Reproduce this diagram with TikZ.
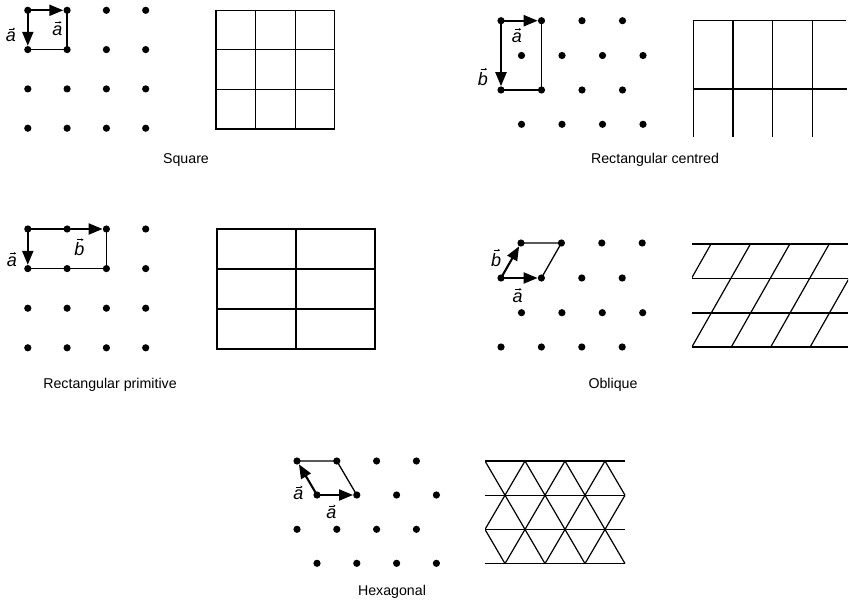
\documentclass[tikz,border=0pt]{standalone}
\usepackage{fontspec}
\setmainfont{Liberation Sans}
\usetikzlibrary{arrows.meta}
\newcommand\mkvec[3]{%
  \node[veclbl] (#1) at (#2) {\textit{#3}};
  \draw[vecmark] ([xshift=-2.2pt,yshift=3pt]#1.north) -- ([xshift=4pt,yshift=3pt]#1.north);}
\begin{document}
\begin{tikzpicture}[x=1pt,y=-1pt,
  dot/.style={circle,fill=black,inner sep=0pt,minimum size=7.2pt},
  vecarrow/.style={line width=2.1pt,-{Triangle[length=14pt,width=11pt]}},
  vecmark/.style={line width=0.6pt,-{Stealth[length=2.2pt,width=2.6pt]}},
  cellline/.style={line width=1.3pt},
  gridline/.style={line width=1.2pt},
  caption/.style={font=\fontsize{14.2}{16}\selectfont,inner sep=0pt,anchor=base},
  veclbl/.style={font=\fontsize{18}{20}\selectfont,inner sep=0pt}]
\useasboundingbox (0,0) rectangle (849,604);

% ---------------- Square ----------------
\foreach \i in {0,...,3} \foreach \j in {0,...,3}
  \node[dot] (sq-\i-\j) at ({27.8+39.3*\i},{10.3+39.3*\j}) {};
\draw[cellline] (sq-1-0.center) -- (sq-1-1.center) -- (sq-0-1.center);
\draw[vecarrow] (sq-0-0.center) -- (sq-1-0);
\draw[vecarrow] (sq-0-0.center) -- (sq-0-1);
\mkvec{sq-la}{11,37}{a}
\mkvec{sq-lb}{57.5,30.5}{a}
\draw[gridline] (216,10.3) rectangle (334.8,129.1);
\foreach \k in {1,2} {
  \draw[gridline] ({216+39.6*\k},10.3) -- ({216+39.6*\k},129.1);
  \draw[gridline] (216,{10.3+39.6*\k}) -- (334.8,{10.3+39.6*\k});
}
\node[caption] (cap-sq) at (186,164) {Square};

% ---------------- Rectangular centred ----------------
\foreach \i in {0,...,3} {
  \node[dot] (rc-\i-0) at ({501+40.5*\i},20.7) {};
  \node[dot] (rc-\i-1) at ({521.5+40.5*\i},55.5) {};
  \node[dot] (rc-\i-2) at ({501+40.5*\i},90) {};
  \node[dot] (rc-\i-3) at ({521.5+40.5*\i},124.3) {};
}
\draw[cellline] (rc-1-0.center) -- (rc-1-2.center) -- (rc-0-2.center);
\draw[vecarrow] (rc-0-0.center) -- (rc-1-0);
\draw[vecarrow] (rc-0-0.center) -- (rc-0-2);
\mkvec{rc-la}{517,37.5}{a}
\mkvec{rc-lb}{483,79}{b}
\draw[gridline] (693.3,137.3) -- (693.3,20.7) -- (846,20.7);
\foreach \k in {1,2,3}
  \draw[gridline] ({693.3+39.7*\k},20.7) -- ({693.3+39.7*\k},137.3);
\draw[gridline] (693.3,89) -- (846.5,89);
\node[caption] (cap-rc) at (655,164) {Rectangular centred};

% ---------------- Rectangular primitive ----------------
\foreach \i in {0,...,3} \foreach \j in {0,...,3}
  \node[dot] (rp-\i-\j) at ({27.8+39.3*\i},{229+39.6*\j}) {};
\draw[cellline] (rp-2-0.center) -- (rp-2-1.center) -- (rp-0-1.center);
\draw[vecarrow] (rp-0-0.center) -- (rp-2-0);
\draw[vecarrow] (rp-0-0.center) -- (rp-0-1);
\mkvec{rp-la}{12,261.5}{a}
\mkvec{rp-lb}{79.5,249.5}{b}
\draw[gridline] (217,229) rectangle (375,349);
\draw[gridline] (296,229) -- (296,349);
\draw[gridline] (217,269) -- (375,269);
\draw[gridline] (217,309) -- (375,309);
\node[caption] (cap-rp) at (110,388) {Rectangular primitive};

% ---------------- Oblique ----------------
\foreach \i in {0,...,3} {
  \node[dot] (ob-\i-0) at ({521+40.4*\i},243) {};
  \node[dot] (ob-\i-1) at ({501+40.4*\i},278) {};
  \node[dot] (ob-\i-2) at ({521.5+40.4*\i},312.7) {};
  \node[dot] (ob-\i-3) at ({501+40.4*\i},347) {};
}
\draw[cellline] (ob-0-0.center) -- (ob-1-0.center) -- (ob-1-1.center);
\draw[vecarrow] (ob-0-1.center) -- (ob-1-1);
\draw[vecarrow] (ob-0-1.center) -- (ob-0-0);
\mkvec{ob-lb}{496,260}{b}
\mkvec{ob-la}{517.5,297.5}{a}
\foreach \y in {244,278.5,313,347}
  \draw[gridline] (692,\y) -- (848,\y);
\begin{scope}
  \clip (692,244) rectangle (848,347);
  \foreach \k in {0,...,4}
    \draw[gridline] ({711+39.4*\k},244) -- ({711+39.4*\k-58.5},347);
\end{scope}
\node[caption] (cap-ob) at (613,388) {Oblique};

% ---------------- Hexagonal ----------------
\foreach \i in {0,...,3} {
  \node[dot] (hx-\i-0) at ({297+39.8*\i},461) {};
  \node[dot] (hx-\i-1) at ({317+39.8*\i},495) {};
  \node[dot] (hx-\i-2) at ({297+39.8*\i},529.3) {};
  \node[dot] (hx-\i-3) at ({317+39.8*\i},563.3) {};
}
\draw[cellline] (hx-0-0.center) -- (hx-1-0.center) -- (hx-1-1.center);
\draw[vecarrow] (hx-0-1.center) -- (hx-1-1);
\draw[vecarrow] (hx-0-1.center) -- (hx-0-0);
\mkvec{hx-la}{298.5,495}{a}
\mkvec{hx-lb}{331.5,514}{a}
\foreach \y in {461,495.2,529.4,563.6}
  \draw[gridline] (485,\y) -- (625,\y);
\begin{scope}
  \clip (485,461) rectangle (625,563.6);
  \foreach \k in {-1,...,4}
    \draw[gridline] ({485+40*\k},461) -- ({485+40*\k+60},563.6);
  \foreach \k in {0,...,5}
    \draw[gridline] ({485+40*\k},461) -- ({485+40*\k-60},563.6);
\end{scope}
\node[caption] (cap-hx) at (392,595) {Hexagonal};
\end{tikzpicture}
\end{document}
